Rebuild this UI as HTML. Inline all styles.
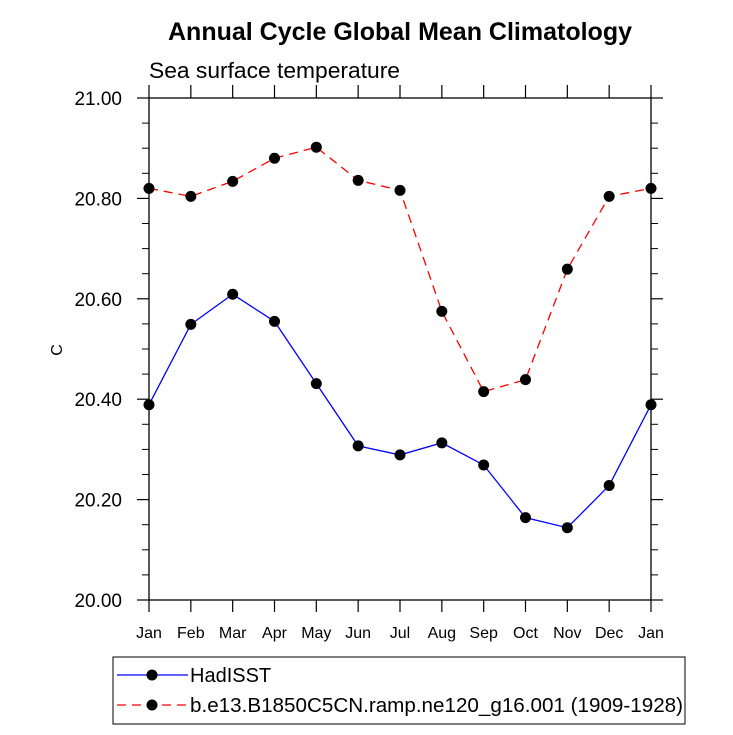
<!DOCTYPE html>
<html><head><meta charset="utf-8"><style>
body{margin:0;background:#fff;}
svg text{font-family:"Liberation Sans",sans-serif;fill:#000;}
</style></head><body>
<svg width="733" height="730" viewBox="0 0 733 730" xmlns="http://www.w3.org/2000/svg">
<text x="400" y="40" text-anchor="middle" font-size="25" font-weight="bold" textLength="464" lengthAdjust="spacingAndGlyphs">Annual Cycle Global Mean Climatology</text>
<text x="149" y="78" font-size="22" textLength="251" lengthAdjust="spacingAndGlyphs">Sea surface temperature</text>
<text x="62" y="350" font-size="16" text-anchor="middle" transform="rotate(-90 62 350)">C</text>
<g id="axes"></g>
<g id="marks"></g>
<rect x="113" y="657" width="572" height="67" fill="none" stroke="#000" stroke-width="1"/>
<g>
<line x1="117" y1="675" x2="188" y2="675" stroke="#0000ff" stroke-width="1.3"/>
<circle cx="152" cy="675" r="5.5" fill="#000"/>
<text x="190" y="682" font-size="20">HadISST</text>
</g>
<g>
<line x1="117" y1="705" x2="188" y2="705" stroke="#ff0000" stroke-width="1.3" stroke-dasharray="9,6"/>
<circle cx="152" cy="705" r="5.5" fill="#000"/>
<text x="190" y="712" font-size="20" textLength="493" lengthAdjust="spacingAndGlyphs">b.e13.B1850C5CN.ramp.ne120_g16.001 (1909-1928)</text>
</g>
</svg>
<script>
const months = ["Jan","Feb","Mar","Apr","May","Jun","Jul","Aug","Sep","Oct","Nov","Dec","Jan"];
const hadisst = [20.389,20.549,20.609,20.555,20.431,20.307,20.289,20.313,20.269,20.164,20.144,20.228,20.389];
const model = [20.820,20.804,20.834,20.880,20.902,20.836,20.816,20.575,20.415,20.439,20.659,20.804,20.820];
const yTicks = ["20.00","20.20","20.40","20.60","20.80","21.00"];

const NS="http://www.w3.org/2000/svg";
const X0=149,X1=651,Y0=600,Y1=98,YMIN=20,YMAX=21;
const xs=i=>X0+(X1-X0)*i/(months.length-1);
const ys=v=>Y0-(v-YMIN)/(YMAX-YMIN)*(Y0-Y1);
function mk(tag,attrs,parent){const e=document.createElementNS(NS,tag);for(const k in attrs)e.setAttribute(k,attrs[k]);parent.appendChild(e);return e;}
const ax=document.getElementById('axes');
const fr=mk('rect',{x:X0,y:Y1,width:X1-X0,height:Y0-Y1,fill:'none',stroke:'#000','stroke-width':1.3},ax);


months.forEach((m,i)=>{
  const x=xs(i);
  mk('line',{x1:x,y1:Y0,x2:x,y2:Y0+12,stroke:'#000','stroke-width':1.2},ax);
  mk('line',{x1:x,y1:Y1,x2:x,y2:Y1-13,stroke:'#000','stroke-width':1.2},ax);
  const t=mk('text',{x:x,y:638,'text-anchor':'middle','font-size':16},ax);
  t.textContent=m;
  
  
});
yTicks.forEach(s=>{
  const v=parseFloat(s),y=ys(v);
  mk('line',{x1:X0,y1:y,x2:X0-12,y2:y,stroke:'#000','stroke-width':1.2},ax);
  mk('line',{x1:X1,y1:y,x2:X1+12,y2:y,stroke:'#000','stroke-width':1.2},ax);
  const t=mk('text',{x:122,y:y+7,'text-anchor':'end','font-size':19},ax);
  t.textContent=s;
  
  
});
for(let k=0;k<20;k++){
  if(k%4===0)continue;
  const y=ys(YMIN+k*0.05);
  mk('line',{x1:X0,y1:y,x2:X0-7,y2:y,stroke:'#000','stroke-width':1},ax);
  mk('line',{x1:X1,y1:y,x2:X1+7,y2:y,stroke:'#000','stroke-width':1},ax);
}
const mg=document.getElementById('marks');
function series(vals,color,dash,name){
  const g=mk('g',{},mg);
  
  
  const pts=vals.map((v,i)=>xs(i)+','+ys(v)).join(' ');
  const a={points:pts,fill:'none',stroke:color,'stroke-width':1.3};
  if(dash)a['stroke-dasharray']=dash;
  mk('polyline',a,g);
  vals.forEach((v,i)=>{
    const c=mk('circle',{cx:xs(i),cy:ys(v),r:5.5,fill:'#000'},g);
    
    
  });
}
series(model,'#ff0000','9,6','model-series');
series(hadisst,'#0000ff',null,'hadisst-series');
</script>
</body></html>
